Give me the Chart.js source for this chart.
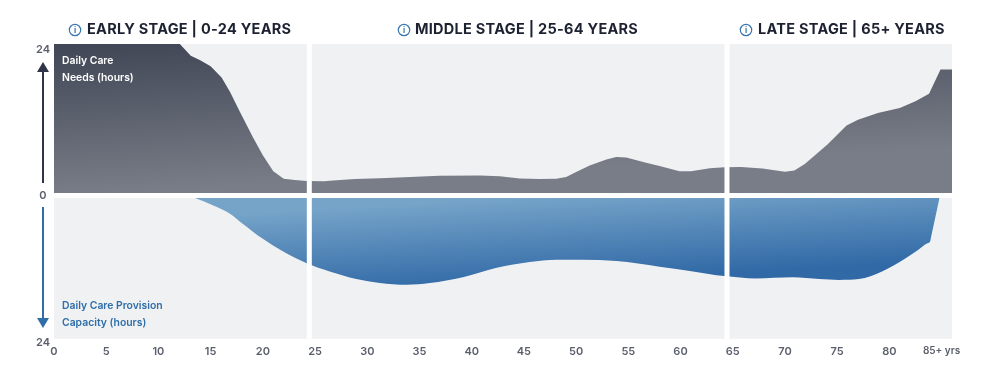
<!DOCTYPE html>
<html>
<head>
<meta charset="utf-8">
<style>
  html, body { margin: 0; padding: 0; background: #fff; }
  canvas { display: block; }
</style>
<script src="https://cdn.jsdelivr.net/npm/chart.js@4"></script>
</head>
<body>
<canvas id="careChart" width="1000" height="370"></canvas>
<script>
// --- Data ---
const needAges = [0, 12.05, 13.1, 14, 15, 16.05, 16.85, 17.8, 19.05, 20, 21, 22, 23.05, 24.2, 25.9, 26.4, 28.8, 31.2, 34.1, 36.9, 40.8, 42.7, 44.6, 46.5, 48.1, 49.05, 50, 51.3, 52.9, 53.85, 54.8, 56.7, 58, 59.9, 61, 62.8, 64.2, 65.8, 67.85, 70, 70.9, 71.9, 74.1, 75.9, 77, 78.9, 81, 82.5, 83.8, 84.9, 86];
const needHours = [24, 24, 22.1, 21.4, 20.4, 18.6, 16.3, 13.1, 9, 6.1, 3.5, 2.3, 2.1, 1.95, 1.9, 2, 2.25, 2.4, 2.6, 2.8, 2.85, 2.7, 2.35, 2.25, 2.3, 2.6, 3.4, 4.45, 5.4, 5.8, 5.75, 4.9, 4.35, 3.5, 3.5, 4, 4.15, 4.2, 3.95, 3.45, 3.65, 4.7, 7.85, 10.9, 11.8, 12.9, 13.7, 14.8, 16, 19.9, 19.9];

const capacityAges = [13.5, 15.25, 16.85, 18.1, 20, 21.95, 24.2, 26.4, 28.95, 31.2, 33.75, 36, 39.15, 42.4, 45.55, 48.1, 50.6, 53.85, 58, 61.2, 64.2, 67.2, 70.75, 73.3, 75.2, 77.1, 79.3, 81.6, 82.75, 83.6, 83.9, 84, 84.8];
const capacityHours = [0, 1.25, 2.65, 4.4, 6.95, 9.1, 11.1, 12.5, 13.8, 14.5, 14.8, 14.5, 13.5, 11.9, 10.9, 10.5, 10.5, 10.75, 11.7, 12.5, 13.3, 13.7, 13.5, 13.8, 13.95, 13.8, 12.5, 10.2, 8.85, 7.75, 7.4, 6.6, 0];

const stageTitles = ['EARLY STAGE | 0-24 YEARS', 'MIDDLE STAGE | 25-64 YEARS', 'LATE STAGE | 65+ YEARS'];
const stageDividers = [24.45, 64.45]; // age where the white bars sit
const hourLabels = ['24', '0', '24'];
const needsLabel = ['Daily Care', 'Needs (hours)'];
const capacityLabel = ['Daily Care Provision', 'Capacity (hours)'];

const FONT = 'Inter, sans-serif';
const PANEL_GREY = '#f0f1f3';
const DARK = '#2f3546';
const BLUE = '#2f6ea8';

function toPoints(xs, ys) {
    return xs.map((x, i) => ({ x: x, y: ys[i] }));
}

function needsGradient(context) {
    const chart = context.chart;
    if (!chart.chartArea) return '#5b606c';
    const s = chart.scales.yTop;
    const g = chart.ctx.createLinearGradient(100, s.top, 108, s.bottom);
    g.addColorStop(0, '#414756');
    g.addColorStop(1, '#797d87');
    return g;
}

function capacityGradient(context) {
    const chart = context.chart;
    if (!chart.chartArea) return '#5b8fbd';
    const s = chart.scales.yBottom;
    const g = chart.ctx.createLinearGradient(500, s.top, 505, s.getPixelForValue(15));
    g.addColorStop(0, '#76a4c9');
    g.addColorStop(1, '#3069a6');
    return g;
}

function drawArrow(c, x, from, to, color) {
    const dir = to > from ? 1 : -1;
    c.strokeStyle = color;
    c.fillStyle = color;
    c.lineWidth = 2;
    c.beginPath();
    c.moveTo(x, from);
    c.lineTo(x, to - dir * 8);
    c.stroke();
    c.beginPath();
    c.moveTo(x, to);
    c.lineTo(x - 6, to - dir * 10);
    c.lineTo(x + 6, to - dir * 10);
    c.closePath();
    c.fill();
}

function drawInfoIcon(c, x, y) {
    c.strokeStyle = '#3a76ae';
    c.fillStyle = '#3a76ae';
    c.lineWidth = 1.2;
    c.beginPath();
    c.arc(x, y, 5.7, 0, Math.PI * 2);
    c.stroke();
    c.font = '700 8px ' + FONT;
    c.textAlign = 'center';
    c.textBaseline = 'middle';
    c.fillText('i', x, y + 0.5);
}

// grey panels go behind the areas
const panels = {
    id: 'panels',
    beforeDatasetsDraw(chart) {
        const c = chart.ctx, a = chart.chartArea, top = chart.scales.yTop, bottom = chart.scales.yBottom;
        c.save();
        c.fillStyle = PANEL_GREY;
        c.fillRect(a.left, top.top, a.right - a.left, top.bottom - top.top);
        c.fillRect(a.left, bottom.top, a.right - a.left, bottom.bottom - bottom.top);
        c.restore();
    }
};

// dividers, headings, arrows and the text inside the panels
const overlay = {
    id: 'overlay',
    afterDatasetsDraw(chart) {
        const c = chart.ctx, a = chart.chartArea, x = chart.scales.x, top = chart.scales.yTop, bottom = chart.scales.yBottom;
        c.save();

        c.fillStyle = '#fff';
        stageDividers.forEach(age => {
            c.fillRect(x.getPixelForValue(age) - 2.5, a.top, 5, a.bottom - a.top);
        });

        const headX = [87, 415, 758];
        const iconX = [75, 404, 746];
        stageTitles.forEach((t, i) => {
            drawInfoIcon(c, iconX[i], 30);
            c.fillStyle = '#1d2232';
            c.font = '700 14.5px ' + FONT;
            c.letterSpacing = '0.27px';
            c.textAlign = 'left';
            c.textBaseline = 'middle';
            c.fillText(t, headX[i], 30);
            c.letterSpacing = '0px';
        });

        drawArrow(c, 43, 183, 62, DARK);
        drawArrow(c, 43, 207, 328, BLUE);

        c.fillStyle = '#5b5f6c';
        c.font = '600 11px ' + FONT;
        c.textAlign = 'center';
        c.textBaseline = 'middle';
        c.fillText(hourLabels[0], 43, top.getPixelForValue(24) + 6);
        c.fillText(hourLabels[1], 43, top.getPixelForValue(0) + 3);
        c.fillText(hourLabels[2], 43, bottom.getPixelForValue(24) + 3.5);

        c.font = '600 10.4px ' + FONT;
        c.textAlign = 'left';
        c.fillStyle = '#fff';
        needsLabel.forEach((t, i) => c.fillText(t, 62, 61 + i * 17.3));
        c.fillStyle = BLUE;
        capacityLabel.forEach((t, i) => c.fillText(t, 62, 306 + i * 17.3));

        c.restore();
    }
};

new Chart(document.getElementById('careChart'), {
    type: 'line',
    data: {
        datasets: [
            {
                label: 'Daily Care Needs (hours)',
                data: toPoints(needAges, needHours),
                yAxisID: 'yTop',
                backgroundColor: needsGradient,
                borderWidth: 0,
                pointRadius: 0,
                tension: 0,
                fill: 'origin'
            },
            {
                label: 'Daily Care Provision Capacity (hours)',
                data: toPoints(capacityAges, capacityHours),
                yAxisID: 'yBottom',
                backgroundColor: capacityGradient,
                borderWidth: 0,
                pointRadius: 0,
                cubicInterpolationMode: 'monotone',
                fill: 'origin'
            }
        ]
    },
    options: {
        responsive: false,
        animation: false,
        layout: { padding: { left: 54, right: 48, top: 44, bottom: 11 } },
        plugins: { legend: { display: false }, title: { display: false }, tooltip: { enabled: false } },
        scales: {
            x: {
                type: 'linear',
                min: 0,
                max: 86,
                grid: { display: false, tickLength: 5 },
                border: { display: false },
                ticks: {
                    stepSize: 5,
                    includeBounds: false,
                    maxRotation: 0,
                    padding: 1,
                    color: '#5b5f6c',
                    font: ctx => ({ family: FONT, size: ctx.tick && ctx.tick.value === 85 ? 10 : 11, weight: 600 }),
                    callback: v => (v === 85 ? '85+ yrs' : String(v))
                }
            },
            yBottom: {
                display: false, position: 'left', stack: 'care', stackWeight: 140.6,
                min: 0, max: 24, reverse: true, offset: false
            },
            yGap: {
                display: false, position: 'left', stack: 'care', stackWeight: 5,
                min: 0, max: 1
            },
            yTop: {
                display: false, position: 'left', stack: 'care', stackWeight: 149,
                min: 0, max: 24
            }
        }
    },
    plugins: [panels, overlay]
});
</script>
</body>
</html>
